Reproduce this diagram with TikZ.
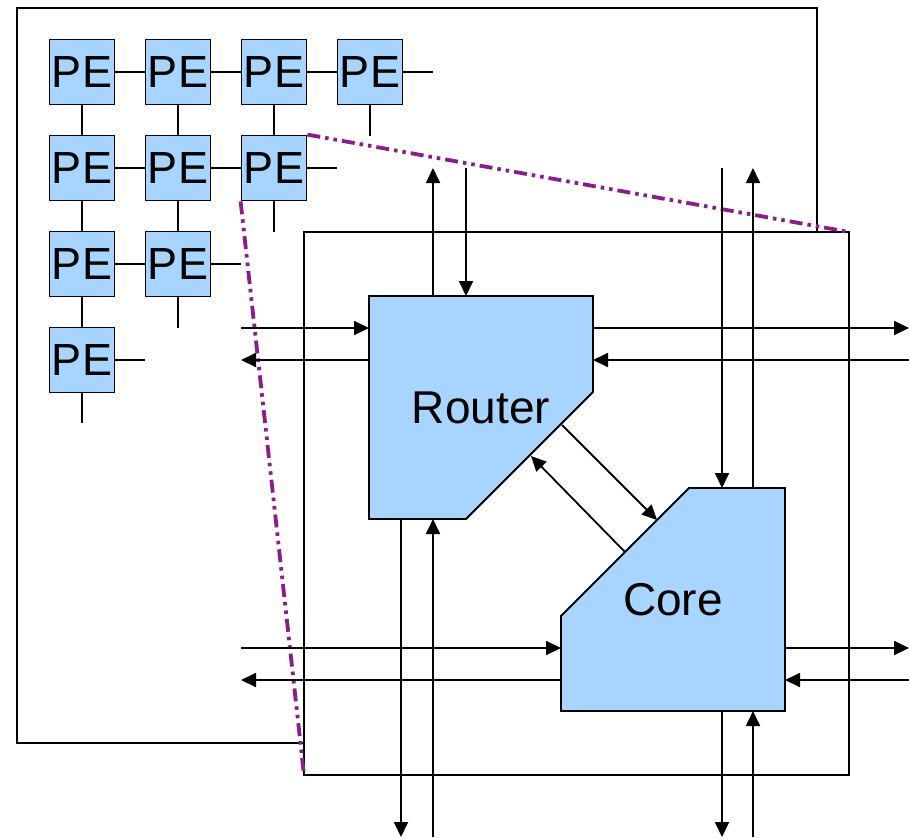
\documentclass[tikz,border=0pt]{standalone}
\usepackage{fontspec}
\setmainfont{Liberation Sans}
\usetikzlibrary{arrows.meta,calc}
\definecolor{pefill}{RGB}{168,213,255}
\definecolor{zoomc}{RGB}{139,28,139}
\begin{document}
\begin{tikzpicture}[x=1pt,y=-1pt, line width=1.8pt,
  pe/.style={draw, fill=pefill, minimum size=65pt, inner sep=0pt, font=\fontsize{45}{45}\selectfont},
  blockshape/.style={draw, fill=pefill, line join=miter},
  blocklabel/.style={minimum width=224pt, minimum height=223pt, inner sep=0pt, outer sep=0pt, font=\fontsize{46}{46}\selectfont},
  arr/.style={-{Triangle[length=15pt,width=14pt]}},
  zoomline/.style={draw=zoomc, line width=3.8pt, dash pattern=on 13pt off 5pt on 3.5pt off 5pt on 3.5pt off 5pt},
  frame/.style={draw, inner sep=0pt, outer sep=0pt}]
\useasboundingbox (0,0) rectangle (909,838);

% chip outline
\node[frame, minimum width=800pt, minimum height=735pt] (chip) at (417,375.5) {};

% PE grid
\node[pe] (pe11) at (82,72) {PE};
\node[pe] (pe12) at (178,72) {PE};
\node[pe] (pe13) at (274,72) {PE};
\node[pe] (pe14) at (370,72) {PE};
\node[pe] (pe21) at (82,168) {PE};
\node[pe] (pe22) at (178,168) {PE};
\node[pe] (pe23) at (274,168) {PE};
\node[pe] (pe31) at (82,264) {PE};
\node[pe] (pe32) at (178,264) {PE};
\node[pe] (pe41) at (82,360) {PE};

\coordinate (s14e) at (433,72);
\coordinate (s23e) at (337,168);
\coordinate (s32e) at (241,264);
\coordinate (s41e) at (145,360);
\coordinate (s14s) at (370,136);
\coordinate (s23s) at (274,232);
\coordinate (s32s) at (178,328);
\coordinate (s41s) at (82,423);

\draw (pe11) -- (pe12); \draw (pe12) -- (pe13); \draw (pe13) -- (pe14); \draw (pe14.east) -- (s14e);
\draw (pe21) -- (pe22); \draw (pe22) -- (pe23); \draw (pe23.east) -- (s23e);
\draw (pe31) -- (pe32); \draw (pe32.east) -- (s32e);
\draw (pe41.east) -- (s41e);
\draw (pe11) -- (pe21); \draw (pe21) -- (pe31); \draw (pe31) -- (pe41); \draw (pe41.south) -- (s41s);
\draw (pe12) -- (pe22); \draw (pe22) -- (pe32); \draw (pe32.south) -- (s32s);
\draw (pe13) -- (pe23); \draw (pe23.south) -- (s23s);
\draw (pe14.south) -- (s14s);

% tile
\node[frame, fill=white, minimum width=545pt, minimum height=543pt] (tile) at (576.5,503.5) {};

% zoom lines
\draw[zoomline] (pe23.north east) -- (tile.north east);
\draw[zoomline] (pe23.south west) -- (tile.south west);

% Router and Core shapes
\path[blockshape] (369,296) -- (593,296) -- (593,392) -- (466,519) -- (369,519) -- cycle;
\node[blocklabel] (router) at (481,407.5) {Router};
\path[blockshape] (561,616) -- (689,488) -- (785,488) -- (785,711) -- (561,711) -- cycle;
\node[blocklabel] (core) at (673,599.5) {Core};

% Router ports
\coordinate (rN1) at (433,168);
\coordinate (rN2) at (466,168);
\coordinate (rW1) at (241,328);
\coordinate (rW2) at (241,360);
\coordinate (rE1) at (909,328);
\coordinate (rE2) at (909,360);
\coordinate (rS1) at (401,837);
\coordinate (rS2) at (433,837);
\draw[arr] (router.north -| rN1) -- (rN1);
\draw[arr] (rN2) -- (router.north -| rN2);
\draw[arr] (rW1) -- (router.west |- rW1);
\draw[arr] (router.west |- rW2) -- (rW2);
\draw[arr] (router.east |- rE1) -- (rE1);
\draw[arr] (rE2) -- (router.east |- rE2);
\draw[arr] (router.south -| rS1) -- (rS1);
\draw[arr] (rS2) -- (router.south -| rS2);

% Core ports
\coordinate (cN1) at (722,168);
\coordinate (cN2) at (753,168);
\coordinate (cW1) at (241,648);
\coordinate (cW2) at (241,680);
\coordinate (cE1) at (909,648);
\coordinate (cE2) at (909,680);
\coordinate (cS1) at (722,837);
\coordinate (cS2) at (753,837);
\draw[arr] (cN1) -- (core.north -| cN1);
\draw[arr] (core.north -| cN2) -- (cN2);
\draw[arr] (cW1) -- (core.west |- cW1);
\draw[arr] (core.west |- cW2) -- (cW2);
\draw[arr] (core.east |- cE1) -- (cE1);
\draw[arr] (cE2) -- (core.east |- cE2);
\draw[arr] (core.south -| cS1) -- (cS1);
\draw[arr] (cS2) -- (core.south -| cS2);

% Router <-> Core
\coordinate (rd1) at (562,425);
\coordinate (rd2) at (531,456);
\coordinate (cd1) at (657,520);
\coordinate (cd2) at (625,552);
\draw[arr] (rd1) -- (cd1);
\draw[arr] (cd2) -- (rd2);
\end{tikzpicture}
\end{document}
